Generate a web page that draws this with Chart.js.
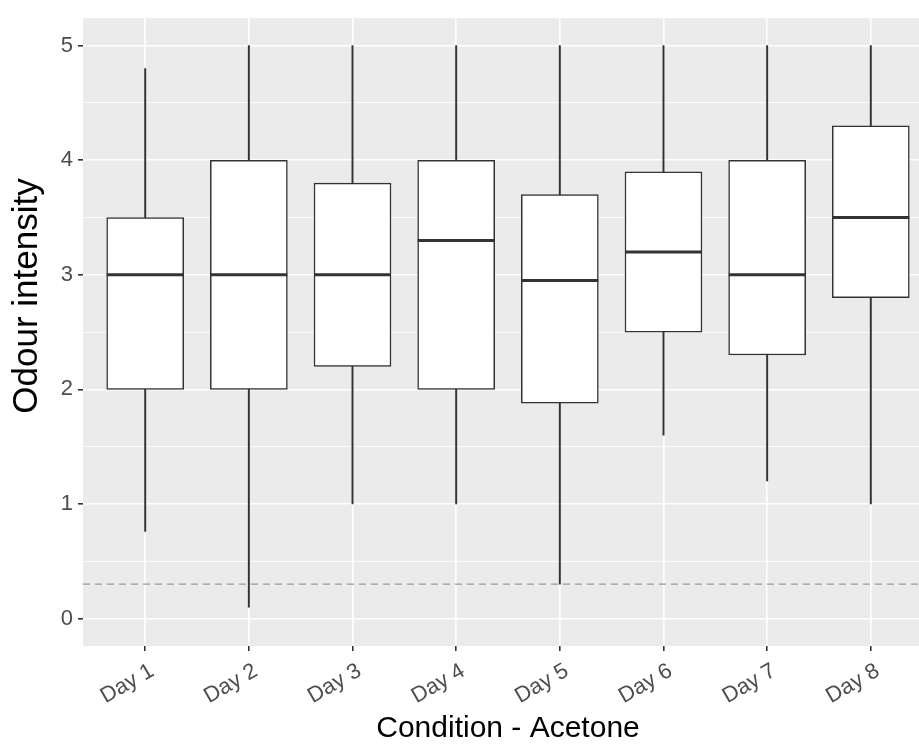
<!DOCTYPE html>
<html>
<head>
<meta charset="utf-8">
<script src="https://cdn.jsdelivr.net/npm/chart.js@4.4.1/dist/chart.umd.min.js"></script>
<style>
  html, body { margin: 0; padding: 0; background: #fff; overflow: hidden; }
  #wrap { width: 919px; height: 747px; overflow: hidden; }
</style>
</head>
<body>
<div id="wrap"><canvas id="box" width="933" height="747"></canvas></div>
<script>
const days = ["Day 1", "Day 2", "Day 3", "Day 4", "Day 5", "Day 6", "Day 7", "Day 8"];
const dayPos = [1, 2, 3, 4, 5, 6, 7, 8];
const whiskerLow = [0.76, 0.1, 1.0, 1.0, 0.3, 1.6, 1.2, 1.0];
const q1 = [2.0, 2.0, 2.2, 2.0, 1.88, 2.5, 2.3, 2.8];
const median = [3.0, 3.0, 3.0, 3.3, 2.95, 3.2, 3.0, 3.5];
const q3 = [3.5, 4.0, 3.8, 4.0, 3.7, 3.9, 4.0, 4.3];
const whiskerHigh = [4.8, 5.0, 5.0, 5.0, 5.0, 5.0, 5.0, 5.0];
const yGrid = [0, 0.5, 1, 1.5, 2, 2.5, 3, 3.5, 4, 4.5, 5];
const refLine = 0.3;
const yTitle = "Odour intensity";

const canvas = document.getElementById("box");
const font = "'Liberation Sans', Arial, sans-serif";
const ink = "#333333";

// grey panel, dashed reference line, y axis title
const panelPlugin = {
  id: "panel",
  beforeDraw(chart) {
    const { ctx, chartArea: a } = chart;
    ctx.save();
    ctx.fillStyle = "#EBEBEB";
    ctx.fillRect(a.left, a.top, a.right - a.left, a.bottom - a.top);
    ctx.restore();
  },
  beforeDatasetsDraw(chart) {
    const { ctx, chartArea: a, scales } = chart;
    const y = scales.y.getPixelForValue(refLine);
    ctx.save();
    ctx.strokeStyle = "#9a9a9a";
    ctx.lineWidth = 1.2;
    ctx.setLineDash([7, 5]);
    ctx.beginPath();
    ctx.moveTo(a.left, y);
    ctx.lineTo(a.right, y);
    ctx.stroke();
    ctx.restore();
  },
  afterDraw(chart) {
    const ctx = chart.ctx;
    ctx.save();
    ctx.translate(27, 296);
    ctx.rotate(-Math.PI / 2);
    ctx.font = "35px " + font;
    ctx.fillStyle = "#000";
    ctx.textAlign = "center";
    ctx.textBaseline = "middle";
    ctx.fillText(yTitle, 0, 0);
    ctx.restore();
  },
};

function isMajor(v) {
  return Number.isInteger(v);
}

new Chart(canvas, {
  type: "bar",
  data: {
    datasets: [
      {
        label: "whisker",
        data: dayPos.map((x, i) => ({ x: x, y: [whiskerLow[i], whiskerHigh[i]] })),
        backgroundColor: ink,
        borderWidth: 0,
        barThickness: 1.3,
        grouped: false,
        order: 3,
      },
      {
        label: "box",
        data: dayPos.map((x, i) => ({ x: x, y: [q1[i], q3[i]] })),
        backgroundColor: "#FFFFFF",
        borderColor: ink,
        borderWidth: 1.5,
        borderSkipped: false,
        barThickness: 77,
        grouped: false,
        order: 2,
      },
      {
        type: "scatter",
        label: "median",
        data: dayPos.map((x, i) => ({ x: x, y: median[i] })),
        pointStyle: "line",
        pointRadius: 38.5,
        pointHoverRadius: 38.5,
        borderColor: ink,
        borderWidth: 3,
        order: 1,
      },
    ],
  },
  options: {
    responsive: false,
    animation: false,
    devicePixelRatio: 1,
    layout: { autoPadding: false, padding: { top: 8, left: 0, right: 0, bottom: 0 } },
    plugins: {
      legend: { display: false },
      tooltip: { enabled: false },
    },
    scales: {
      x: {
        type: "linear",
        min: 0.4,
        max: 8.6,
        offset: false,
        afterFit(scale) { scale.height = 101; },
        afterBuildTicks(scale) {
          scale.ticks = dayPos.map((v) => ({ value: v }));
        },
        border: { display: false },
        grid: {
          offset: false,
          color: "#FFFFFF",
          lineWidth: 1.6,
          tickColor: ink,
          tickLength: 5,
        },
        ticks: {
          autoSkip: false,
          minRotation: 30,
          maxRotation: 30,
          padding: 7,
          labelOffset: 7,
          color: "#4D4D4D",
          font: { family: font, size: 22 },
          callback: (v) => days[dayPos.indexOf(v)],
        },
        title: {
          display: true,
          text: "Condition - Acetone",
          color: "#000",
          font: { family: font, size: 30 },
          padding: { top: 0, bottom: 0 },
        },
      },
      y: {
        min: -0.24,
        max: 5.24,
        afterFit(scale) { scale.width = 83; },
        afterBuildTicks(scale) {
          scale.ticks = yGrid.map((v) => ({ value: v }));
        },
        border: { display: false },
        grid: {
          color: "#FFFFFF",
          lineWidth: (c) => (isMajor(c.tick.value) ? 1.6 : 0.8),
          tickColor: (c) => (isMajor(c.tick.value) ? ink : "rgba(0,0,0,0)"),
          tickLength: 5,
        },
        ticks: {
          padding: 5,
          color: "#4D4D4D",
          font: { family: font, size: 22 },
          callback: (v) => (isMajor(v) ? String(v) : ""),
        },
      },
    },
  },
  plugins: [panelPlugin],
});
</script>
</body>
</html>
